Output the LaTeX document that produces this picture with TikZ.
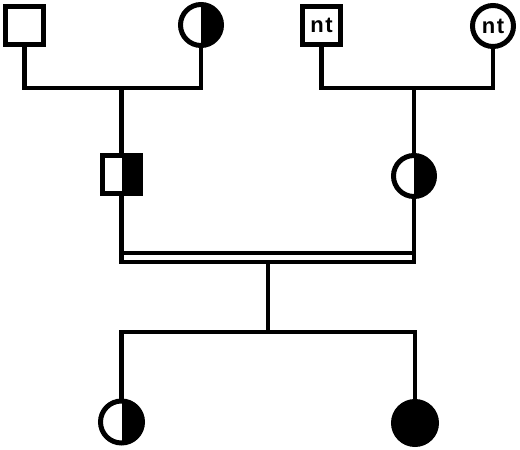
\documentclass[tikz,border=0pt]{standalone}
\usepackage{fontspec}
\setmainfont{Liberation Sans}
\tikzset{
  sym/.style={draw, line width=5pt, inner sep=0pt, fill=white},
  male/.style={sym, rectangle, minimum size=38pt},
  female/.style={sym, circle, minimum size=41pt},
  half/.style={path picture={\fill[black] (path picture bounding box.north) rectangle (path picture bounding box.south east);}},
  aff/.style={fill=black},
  link/.style={line width=4.6pt, line join=miter},
  lab/.style={font=\bfseries\fontsize{22}{22}\selectfont}
}
\begin{document}
\begin{tikzpicture}[x=1pt,y=-1pt]
\useasboundingbox (0,0) rectangle (520,450);
% generation I
\node[male] (gf1) at (24.5,25) {};
\node[female,half] (gm1) at (201,25) {};
\node[male,lab] (gf2) at (321.5,25) {n\kern1.5pt t};
\node[female,lab] (gm2) at (493,26) {n\kern1.5pt t};
% generation II
\node[male,half] (f2) at (121.5,174) {};
\node[female,half] (m2) at (414,176) {};
% generation III
\node[female,half,minimum size=42pt] (c1) at (121.5,422) {};
\node[female,aff,minimum size=43pt] (c2) at (415,423) {};
% junction coordinates
\coordinate (mA) at (121.5,88);
\coordinate (mB) at (414,88);
\coordinate (cL1) at (121.5,253);
\coordinate (cR1) at (414,253);
\coordinate (cL2) at (121.5,262);
\coordinate (cR2) at (414,262);
\coordinate (d) at (268,262);
\coordinate (s) at (268,332);
% connectors
\draw[link] (gf1) |- (mA) -| (gm1);
\draw[link] (mA) -- (f2);
\draw[link] (gf2) |- (mB) -| (gm2);
\draw[link] (mB) -- (m2);
\draw[link] (f2) -- (cL2) -- (cR2) -- (m2);
\draw[link] (cL1) -- (cR1);
\draw[link] (d) -- (s);
\draw[link] (c1) |- (s) -| (c2);
\end{tikzpicture}
\end{document}
